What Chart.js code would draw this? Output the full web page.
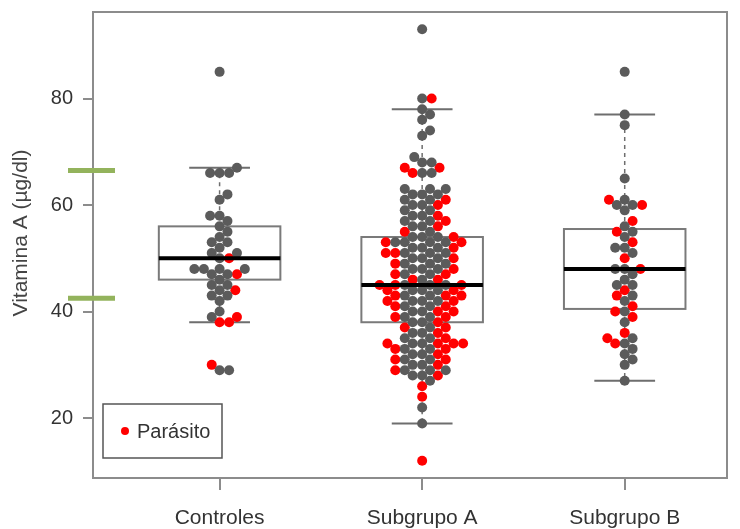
<!DOCTYPE html>
<html>
<head>
<meta charset="utf-8">
<script src="https://cdn.jsdelivr.net/npm/chart.js@4.4.0/dist/chart.umd.min.js"></script>
<style>
  html, body { margin: 0; padding: 0; background: #fff; }
  #wrap { width: 740px; height: 529px; }
</style>
</head>
<body>
<div id="wrap"><canvas id="chart" width="740" height="529"></canvas></div>
<script>
// Vitamina A by group, beeswarm over boxplot.
const categories = ['Controles', 'Subgrupo A', 'Subgrupo B'];
const yTicks = [20, 40, 60, 80];
const yTitle = 'Vitamina A (µg/dl)';

// box stats per group (same order as categories)
const whiskerLow = [38, 19, 27];
const q1 = [46, 38, 40.5];
const medians = [50, 45, 48];
const q3 = [56, 54, 55.5];
const whiskerHigh = [67, 78, 77];

// reference range marks on the y axis
const refRange = [42.5, 66.5];

// individual values: gray = no parasite, red = parasite
const controlesOther = [85, 67, 66, 66, 66, 62, 61, 58, 58, 57, 56, 55, 54, 53, 53, 52, 51, 51, 50,
  48, 48, 48, 48, 47, 47, 46, 45, 45, 44, 43, 43, 42, 40, 39, 29, 29];
const controlesParasite = [50, 47, 44, 39, 38, 38, 30];

const subAOther = [93, 80, 78, 77, 76, 74, 73, 69, 68, 68, 66, 66, 63, 63, 63, 62, 62, 62, 61, 61,
  60, 60, 59, 59, 58, 58, 57, 57, 56, 56, 55, 54, 54, 54, 53, 53, 53, 53, 52, 52, 52, 51, 51, 51,
  50, 50, 50, 49, 49, 49, 48, 48, 48, 47, 47, 46, 45, 45, 45, 44, 44, 44, 43, 43, 42, 42, 42, 41,
  41, 40, 40, 39, 39, 38, 38, 37, 36, 36, 35, 35, 34, 34, 33, 33, 32, 32, 31, 31, 30, 30, 29, 29,
  29, 28, 28, 27, 22, 19];
const subAParasite = [80, 67, 67, 66, 61, 60, 58, 57, 56, 55, 54, 53, 53, 52, 51, 51, 50, 49, 48,
  47, 47, 46, 46, 45, 45, 45, 44, 44, 43, 43, 43, 42, 42, 41, 41, 40, 40, 39, 39, 38, 37, 37, 36,
  35, 34, 34, 34, 34, 33, 33, 32, 31, 31, 30, 29, 28, 26, 24, 12];

const subBOther = [85, 77, 75, 65, 61, 60, 60, 59, 56, 55, 54, 52, 52, 51, 48, 48, 47, 46, 45, 45,
  43, 42, 40, 38, 35, 34, 33, 32, 31, 30, 27];
const subBParasite = [61, 60, 57, 55, 53, 50, 48, 44, 43, 41, 40, 39, 36, 35, 34];

const groupOther = [controlesOther, subAOther, subBOther];
const groupParasite = [controlesParasite, subAParasite, subBParasite];

const GRAY = '#5b5b5b';
const RED = '#ff0000';
const FRAME = '#8c8c8c';
const FONT = "'Liberation Sans', Arial, sans-serif";
const DOT_GAP = 9.5; // px between dot centres in the swarm

// simple swarm: each point goes to the free spot closest to the centre line
function swarm(py, values, d) {
  const order = values.map((v, i) => i).sort((a, b) => values[a] - values[b]);
  const placed = [];
  const xs = new Array(values.length).fill(0);
  for (const i of order) {
    const y = py[i];
    const near = placed.filter(p => Math.abs(p.y - y) < d);
    const cands = [0];
    for (const p of near) {
      const dx = Math.sqrt(d * d - (p.y - y) * (p.y - y));
      cands.push(p.x + dx, p.x - dx);
    }
    cands.sort((a, b) => Math.abs(a) - Math.abs(b));
    let best = 0;
    for (const c of cands) {
      if (near.every(p => (p.x - c) ** 2 + (p.y - y) ** 2 >= d * d - 0.01)) { best = c; break; }
    }
    xs[i] = best;
    placed.push({ x: best, y });
  }
  return xs;
}

function startData(list) {
  const out = [];
  list.forEach((vals, gi) => vals.forEach(v => out.push({ x: gi + 1, y: v })));
  return out;
}

const boxPlugin = {
  id: 'boxes',
  beforeDatasetsDraw(chart) {
    const { ctx, scales: { x, y } } = chart;
    ctx.save();
    categories.forEach((c, i) => {
      const cx = x.getPixelForValue(i + 1);
      const half = x.getPixelForValue(i + 1.3) - cx;
      const cap = half / 2;
      // whiskers (dashed)
      ctx.strokeStyle = '#6e6e6e';
      ctx.lineWidth = 1.5;
      ctx.setLineDash([4, 4]);
      ctx.beginPath();
      ctx.moveTo(cx, y.getPixelForValue(q3[i]));
      ctx.lineTo(cx, y.getPixelForValue(whiskerHigh[i]));
      ctx.moveTo(cx, y.getPixelForValue(q1[i]));
      ctx.lineTo(cx, y.getPixelForValue(whiskerLow[i]));
      ctx.stroke();
      ctx.setLineDash([]);
      ctx.lineWidth = 2;
      ctx.beginPath();
      ctx.moveTo(cx - cap, y.getPixelForValue(whiskerHigh[i]));
      ctx.lineTo(cx + cap, y.getPixelForValue(whiskerHigh[i]));
      ctx.moveTo(cx - cap, y.getPixelForValue(whiskerLow[i]));
      ctx.lineTo(cx + cap, y.getPixelForValue(whiskerLow[i]));
      ctx.stroke();
      // box
      const top = y.getPixelForValue(q3[i]);
      const bot = y.getPixelForValue(q1[i]);
      ctx.strokeStyle = '#7a7a7a';
      ctx.lineWidth = 2;
      ctx.strokeRect(cx - half, top, half * 2, bot - top);
    });
    ctx.restore();
  },
  afterDatasetsDraw(chart) {
    const { ctx, chartArea: a, scales: { x, y } } = chart;
    ctx.save();
    // medians on top of the dots
    ctx.strokeStyle = '#000';
    ctx.lineWidth = 4;
    categories.forEach((c, i) => {
      const cx = x.getPixelForValue(i + 1);
      const half = x.getPixelForValue(i + 1.3) - cx;
      const my = y.getPixelForValue(medians[i]);
      ctx.beginPath();
      ctx.moveTo(cx - half, my);
      ctx.lineTo(cx + half, my);
      ctx.stroke();
    });
    // frame
    ctx.strokeStyle = FRAME;
    ctx.lineWidth = 2;
    ctx.strokeRect(a.left, a.top, a.right - a.left, a.bottom - a.top);
    // reference range marks
    ctx.strokeStyle = '#93b35c';
    ctx.lineWidth = 5;
    refRange.forEach(v => {
      const py = y.getPixelForValue(v);
      ctx.beginPath();
      ctx.moveTo(a.left - 25, py);
      ctx.lineTo(a.left + 22, py);
      ctx.stroke();
    });
    // legend
    const lx = a.left + 10, ly = a.bottom - 74;
    ctx.strokeStyle = '#555';
    ctx.lineWidth = 1.5;
    ctx.strokeRect(lx, ly, 119, 54);
    ctx.fillStyle = RED;
    ctx.beginPath();
    ctx.arc(lx + 22, ly + 27, 4, 0, Math.PI * 2);
    ctx.fill();
    ctx.fillStyle = '#333';
    ctx.font = '20px ' + FONT;
    ctx.textBaseline = 'middle';
    ctx.fillText('Parásito', lx + 34, ly + 28);
    // y axis title
    ctx.translate(21, 233);
    ctx.rotate(-Math.PI / 2);
    ctx.fillStyle = '#444';
    ctx.font = '21px ' + FONT;
    ctx.textAlign = 'center';
    ctx.fillText(yTitle, 0, 0);
    ctx.restore();
  }
};

const chart = new Chart(document.getElementById('chart'), {
  type: 'scatter',
  data: {
    datasets: [
      { label: 'Sin parásito', data: startData(groupOther), backgroundColor: GRAY, pointRadius: 5, pointBorderWidth: 0 },
      { label: 'Parásito', data: startData(groupParasite), backgroundColor: RED, pointRadius: 5, pointBorderWidth: 0 }
    ]
  },
  options: {
    responsive: false,
    animation: false,
    devicePixelRatio: 1,
    layout: { autoPadding: false, padding: { left: 0, top: 12, right: 13, bottom: 0 } },
    plugins: { legend: { display: false }, tooltip: { enabled: false } },
    scales: {
      x: {
        type: 'linear',
        min: 0.375,
        max: 3.505,
        afterBuildTicks: s => { s.ticks = categories.map((c, i) => ({ value: i + 1 })); },
        afterFit: s => { s.height = 51; s.paddingLeft = 0; s.paddingRight = 0; },
        ticks: {
          callback: v => categories[v - 1],
          color: '#333',
          font: { family: FONT, size: 21 },
          padding: 16,
          maxRotation: 0
        },
        grid: { drawOnChartArea: false, drawTicks: true, tickLength: 12, color: FRAME, lineWidth: 2 },
        border: { display: false }
      },
      y: {
        min: 8.76,
        max: 96.24,
        afterBuildTicks: s => { s.ticks = yTicks.map(v => ({ value: v })); },
        afterFit: s => { s.width = 93; s.paddingTop = 0; s.paddingBottom = 0; },
        ticks: { color: '#333', font: { family: FONT, size: 20 }, padding: 10 },
        grid: { drawOnChartArea: false, drawTicks: true, tickLength: 10, color: FRAME, lineWidth: 2 },
        border: { display: false }
      }
    }
  },
  plugins: [boxPlugin]
});

// place the dots side by side once the scales exist
function applySwarm() {
  const xs = chart.scales.x, ys = chart.scales.y;
  const unitX = xs.getPixelForValue(1) - xs.getPixelForValue(0);
  const gray = [], red = [];
  groupOther.forEach((vals, gi) => {
    const all = vals.map(v => ({ v, red: false })).concat(groupParasite[gi].map(v => ({ v, red: true })));
    const values = all.map(p => p.v);
    const py = values.map(v => ys.getPixelForValue(v));
    const off = swarm(py, values, DOT_GAP);
    all.forEach((p, i) => (p.red ? red : gray).push({ x: gi + 1 + off[i] / unitX, y: p.v }));
  });
  chart.data.datasets[0].data = gray;
  chart.data.datasets[1].data = red;
  chart.update('none');
}
applySwarm();
</script>
</body>
</html>
